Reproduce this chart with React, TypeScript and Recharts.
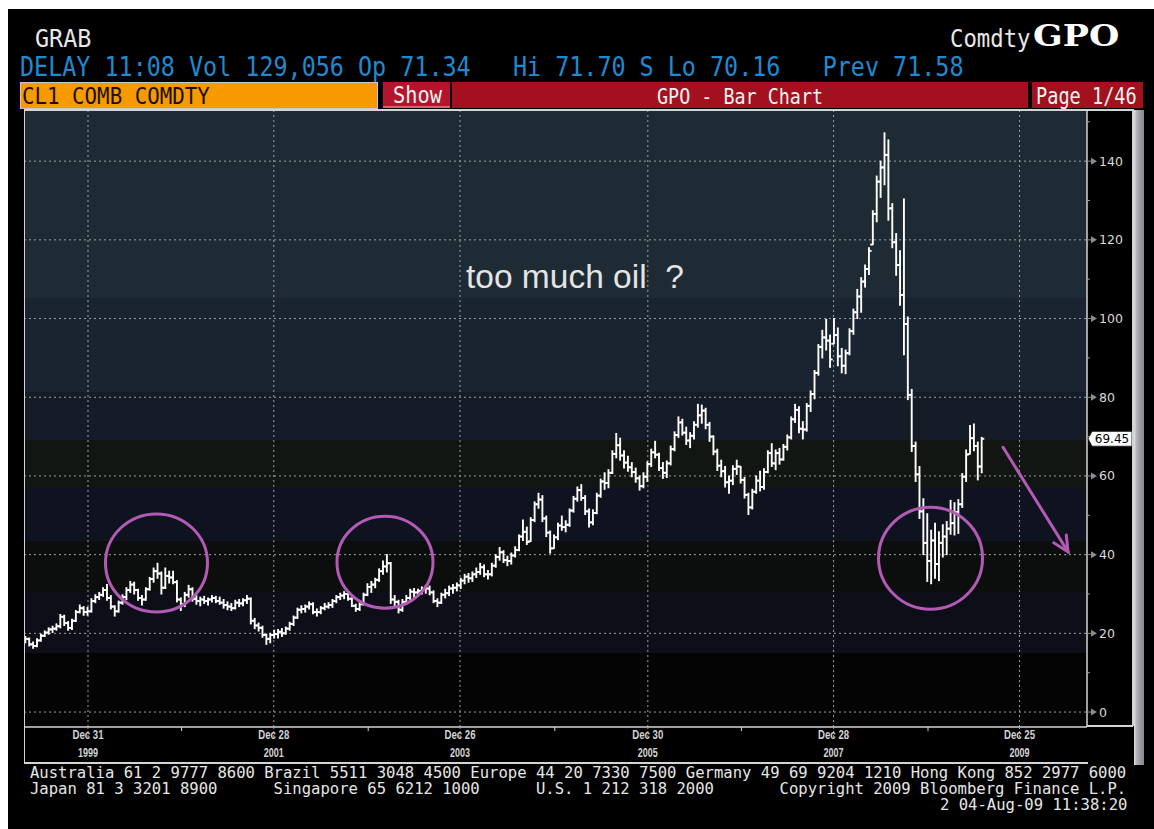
import React from "react";
import {
  Bar,
  CartesianGrid,
  ComposedChart,
  ReferenceDot,
  ReferenceLine,
  XAxis,
  YAxis,
} from "recharts";

type Hlc = [number, number, number];

// CL1 front month, two bars a month starting May 1999: [low, high, close]
const startYear = 1999.33;
const barsPerYear = 24;

const bars1999: Hlc[] = [
  [17.6, 19.2, 18.6], [16.8, 18.8, 17.2], [16.2, 17.8, 16.8], [16.6, 18.6, 18.2],
  [18.0, 19.8, 19.4], [19.2, 20.6, 20.2], [19.8, 21.4, 21.0], [20.2, 21.8, 21.2],
  [20.8, 22.4, 21.8], [21.4, 24.8, 24.2], [22.0, 24.6, 22.6], [20.8, 23.0, 21.4],
  [21.0, 23.6, 23.2], [23.0, 25.8, 25.4], [25.2, 27.2, 26.4], [24.6, 26.8, 25.4],
];
const bars2000: Hlc[] = [
  [24.6, 26.6, 25.6], [25.4, 28.8, 28.2], [27.8, 29.8, 29.2], [28.6, 30.4, 29.8],
  [29.4, 31.6, 31.0], [28.4, 32.4, 29.0], [26.2, 29.6, 26.8], [24.4, 27.0, 25.6],
  [25.4, 28.2, 27.8], [27.4, 29.8, 29.2], [28.6, 31.6, 31.0], [30.4, 33.2, 32.4],
  [30.0, 33.0, 31.0], [28.4, 31.2, 29.0], [27.2, 29.6, 28.6], [28.4, 31.6, 31.2],
  [31.0, 34.2, 33.8], [33.0, 36.6, 35.8], [34.0, 37.8, 35.2], [30.0, 35.6, 31.6],
  [31.4, 36.6, 34.6], [32.8, 35.8, 34.2], [32.6, 35.8, 33.0], [28.0, 33.4, 28.6],
];
const bars2001: Hlc[] = [
  [25.8, 29.0, 27.4], [26.8, 30.4, 29.8], [29.2, 32.2, 31.2], [28.2, 31.6, 28.8],
  [27.4, 29.6, 28.2], [27.0, 29.2, 28.6], [27.6, 29.4, 28.2], [27.2, 29.0, 28.6],
  [28.0, 29.6, 29.0], [27.8, 29.4, 28.2], [27.4, 29.2, 27.8], [26.4, 28.6, 27.2],
  [26.0, 28.0, 26.8], [25.8, 27.6, 26.4], [26.2, 28.4, 27.8], [26.8, 28.6, 27.6],
  [27.0, 28.8, 28.4], [27.6, 29.6, 28.8], [22.4, 29.0, 23.2], [21.2, 23.8, 22.0],
  [20.6, 22.6, 21.4], [19.0, 21.8, 19.6], [17.2, 19.8, 18.6], [17.6, 20.0, 19.6],
];
const bars2002: Hlc[] = [
  [18.8, 20.8, 19.8], [18.8, 21.0, 20.4], [19.2, 21.2, 20.0], [19.8, 21.6, 21.2],
  [20.8, 22.8, 22.4], [22.0, 24.4, 24.0], [23.8, 26.4, 26.0], [25.2, 27.0, 26.2],
  [25.4, 27.2, 26.8], [26.2, 28.0, 27.4], [25.0, 27.8, 25.4], [24.4, 26.2, 25.4],
  [25.0, 26.8, 26.4], [26.0, 27.6, 26.8], [26.4, 27.8, 27.2], [26.6, 28.6, 28.2],
  [27.8, 29.6, 29.2], [28.6, 30.2, 29.6], [28.8, 30.6, 30.0], [28.4, 30.4, 28.8],
  [26.8, 29.0, 27.0], [25.6, 27.4, 26.2], [25.8, 27.8, 27.4], [27.2, 30.2, 29.8],
];
const bars2003: Hlc[] = [
  [29.6, 32.6, 31.8], [30.4, 33.2, 32.4], [31.6, 34.0, 33.6], [33.2, 36.4, 35.8],
  [35.0, 38.4, 37.0], [35.6, 40.0, 37.8], [27.6, 38.0, 28.6], [26.6, 29.6, 28.0],
  [25.2, 28.4, 26.0], [25.6, 28.6, 28.0], [27.4, 29.6, 29.0], [28.6, 31.2, 30.6],
  [29.0, 31.4, 30.4], [29.4, 31.2, 30.8], [30.0, 31.8, 31.2], [30.2, 32.2, 31.4],
  [29.8, 32.0, 30.4], [27.8, 30.8, 28.2], [26.8, 28.8, 27.8], [27.6, 30.2, 29.8],
  [29.0, 31.2, 30.2], [29.6, 32.0, 31.4], [30.2, 32.4, 31.6], [30.8, 32.8, 32.2],
];
const bars2004: Hlc[] = [
  [31.4, 34.0, 33.4], [32.6, 35.0, 34.4], [33.0, 35.2, 34.0], [33.2, 35.6, 35.0],
  [34.2, 36.6, 35.6], [35.0, 37.8, 36.8], [34.4, 37.4, 35.0], [33.8, 36.0, 35.0],
  [34.6, 37.8, 37.2], [36.8, 40.0, 39.4], [38.6, 41.8, 40.6], [38.0, 41.0, 38.6],
  [37.2, 39.6, 38.4], [37.6, 40.4, 39.8], [39.4, 42.0, 41.2], [41.0, 45.0, 44.6],
  [43.6, 48.8, 45.8], [42.6, 47.0, 43.2], [43.4, 49.4, 48.8], [48.4, 53.4, 52.8],
  [51.8, 55.6, 54.0], [48.4, 55.0, 49.2], [44.6, 49.8, 45.6], [40.4, 46.0, 41.6],
];
const bars2005: Hlc[] = [
  [41.6, 45.0, 44.4], [43.8, 48.0, 47.4], [46.2, 49.8, 47.0], [45.8, 48.6, 47.6],
  [47.2, 51.6, 51.2], [50.8, 54.8, 54.2], [53.6, 57.2, 56.4], [53.8, 57.8, 54.4],
  [50.2, 55.0, 51.0], [47.0, 51.6, 48.2], [47.6, 51.4, 50.6], [50.4, 55.6, 55.0],
  [54.6, 59.2, 58.6], [56.6, 60.8, 58.2], [57.0, 61.6, 60.8], [60.6, 66.4, 65.6],
  [64.6, 70.8, 67.8], [64.0, 69.6, 65.2], [62.0, 66.4, 63.4], [61.2, 65.0, 62.2],
  [59.8, 63.4, 61.0], [58.4, 62.0, 59.4], [56.4, 60.0, 57.4], [57.0, 60.8, 59.8],
];
const bars2006: Hlc[] = [
  [58.6, 63.6, 63.0], [62.4, 66.8, 66.0], [64.6, 68.8, 65.4], [61.4, 65.8, 62.0],
  [59.4, 63.4, 60.8], [59.6, 63.8, 63.2], [62.8, 67.6, 66.8], [66.4, 71.2, 70.4],
  [69.8, 75.0, 73.6], [70.4, 74.4, 71.0], [68.0, 72.4, 69.0], [67.2, 71.0, 70.2],
  [69.4, 73.8, 73.0], [72.4, 78.2, 75.4], [73.4, 78.0, 76.6], [72.0, 77.2, 73.0],
  [68.8, 73.6, 70.0], [65.4, 70.2, 66.2], [61.4, 66.8, 62.6], [59.8, 64.0, 61.2],
  [57.2, 62.4, 58.4], [55.6, 60.0, 58.8], [57.8, 62.6, 61.8], [60.4, 64.0, 62.4],
];
const bars2007: Hlc[] = [
  [58.2, 62.4, 59.0], [54.4, 59.6, 55.2], [50.2, 55.6, 52.0], [51.6, 56.6, 56.0],
  [55.6, 60.0, 58.8], [56.2, 61.2, 57.2], [56.6, 61.8, 61.0], [60.8, 66.4, 65.8],
  [62.4, 68.2, 63.2], [61.6, 66.6, 65.8], [63.0, 67.0, 64.2], [64.0, 68.0, 67.4],
  [66.6, 70.4, 69.8], [69.4, 75.0, 74.4], [73.6, 78.2, 76.8], [71.0, 77.6, 72.0],
  [69.4, 73.8, 71.8], [71.4, 78.4, 77.8], [76.4, 81.6, 80.8], [79.6, 86.8, 86.2],
  [85.6, 93.4, 92.8], [90.0, 97.0, 95.2], [92.0, 99.8, 94.4], [87.6, 95.8, 89.6],
];
const bars2008: Hlc[] = [
  [93.6, 100.0, 95.8], [88.0, 97.6, 90.4], [86.2, 92.4, 88.0], [86.0, 92.0, 91.2],
  [90.8, 97.4, 96.8], [96.0, 102.4, 101.6], [100.0, 107.4, 105.6], [101.6, 110.4, 109.4],
  [108.0, 113.6, 112.6], [111.2, 118.0, 117.2], [118.8, 127.4, 126.6], [124.6, 136.2, 134.8],
  [130.8, 140.0, 138.4], [134.0, 147.2, 141.6], [125.0, 145.4, 128.0], [118.0, 129.2, 119.4],
  [111.0, 121.6, 113.6], [103.4, 117.2, 106.0], [90.8, 130.4, 98.6], [79.4, 100.4, 80.6],
  [66.2, 82.0, 67.6], [58.6, 68.6, 60.4], [49.2, 62.4, 51.0], [40.0, 54.2, 43.0],
];
const bars2009: Hlc[] = [
  [33.2, 50.4, 38.4], [32.6, 46.2, 43.6], [34.0, 48.0, 37.6], [33.4, 45.8, 43.0],
  [39.4, 47.6, 44.6], [40.0, 48.4, 46.6], [45.2, 53.8, 48.0], [45.0, 53.2, 50.8],
  [45.4, 54.0, 52.8], [52.0, 60.6, 59.8], [58.6, 66.6, 65.4], [65.6, 72.8, 69.6],
  [66.4, 73.2, 67.6], [59.0, 68.6, 62.4], [60.8, 69.8, 69.45],
];

const priceTicks = [0, 10, 20, 30, 40, 50, 60, 70, 80, 90, 100, 110, 120, 130, 140, 150];
const priceLabels = [0, 20, 40, 60, 80, 100, 120, 140];

const dateMajor = [1999.997, 2001.988, 2003.984, 2005.997, 2007.988, 2009.981];
const dateMajorDay = ["Dec 31", "Dec 28", "Dec 26", "Dec 30", "Dec 28", "Dec 25"];
const dateMajorYear = ["1999", "2001", "2003", "2005", "2007", "2009"];
const dateMinor = [2001.0, 2003.0, 2005.0, 2007.0, 2009.0];

// plot background bands, top to bottom (value where each band ends)
const bandEnds = [105.3, 81.4, 69.2, 57, 43.5, 30.5, 15];
const bandColors = ["#1e2b34", "#1a2430", "#151c27", "#111612", "#0f1320", "#0b0e0d", "#0e0e19", "#040404"];

// annotations drawn on the chart
const circles = [
  { t: 2000.731, v: 37.9, rx: 51, ry: 49 },
  { t: 2003.18, v: 38.1, rx: 48, ry: 46 },
  { t: 2009.027, v: 39.1, rx: 52, ry: 51 },
];
const arrow = { from: { t: 2009.804, v: 67.3 }, to: { t: 2010.501, v: 40.7 } };
const note = { t: 2004.048, v: 107.75, text: "too much oil  ?" };

const xMin = 1999.311;
const xMax = 2010.704;
const yMin = -3.8;
const yMax = 153;

const allBars = [
  ...bars1999, ...bars2000, ...bars2001, ...bars2002, ...bars2003, ...bars2004,
  ...bars2005, ...bars2006, ...bars2007, ...bars2008, ...bars2009,
];
const data = allBars.map(([lo, hi, close], i) => ({
  t: startYear + i / barsPerYear,
  range: [lo, hi],
  lo,
  hi,
  close,
  open: i === 0 ? close : allBars[i - 1][2],
}));
const lastClose = allBars[allBars.length - 1][2];

const MONO = "'DejaVu Sans Mono', 'Liberation Mono', monospace";
const PURPLE = "#b35ab5";

const OhlcBar = (props: any) => {
  const { x, y, width, height, payload } = props;
  if (height == null || !payload) return null;
  const top = Math.min(y, y + height);
  const h = Math.abs(height);
  const cx = x + width / 2;
  const k = payload.hi > payload.lo ? h / (payload.hi - payload.lo) : 0;
  const clamp = (v: number) => Math.max(payload.lo, Math.min(payload.hi, v));
  const yo = top + (payload.hi - clamp(payload.open)) * k;
  const yc = top + (payload.hi - clamp(payload.close)) * k;
  return (
    <g stroke="#ffffff" strokeWidth={1.9}>
      <line x1={cx} x2={cx} y1={top - 0.5} y2={top + h + 0.5} />
      <line x1={cx - 2.6} x2={cx} y1={yo} y2={yo} />
      <line x1={cx} x2={cx + 2.6} y1={yc} y2={yc} />
    </g>
  );
};

const PriceTick = (props: any) => {
  const { x, y, payload } = props;
  const v = payload.value;
  if (priceLabels.indexOf(v) < 0) {
    return <line x1={x} x2={x + 3} y1={y} y2={y} stroke="#9a9a9a" />;
  }
  return (
    <g>
      <line x1={x} x2={x + 5} y1={y} y2={y} stroke="#8c8c8c" />
      <path d={`M${x + 4},${y - 3.5}L${x + 10},${y}L${x + 4},${y + 3.5}Z`} fill="#8c8c8c" />
      <text x={x + 12} y={y + 4.5} fill="#dadada" fontSize={12.5} fontFamily="'DejaVu Sans', sans-serif">
        {v}
      </text>
    </g>
  );
};

const DateTick = (props: any) => {
  const { x, y, payload } = props;
  const k = dateMajor.indexOf(payload.value);
  if (k < 0) {
    return <line x1={x} x2={x} y1={y} y2={y + 4} stroke="#d8d8d8" />;
  }
  const font = { fill: "#d4d4d4", fontSize: 12, fontWeight: 700, fontFamily: "'Liberation Sans', Arial, sans-serif" };
  return (
    <g>
      <line x1={x} x2={x} y1={y} y2={y + 10} stroke="#9aa0a6" strokeDasharray="2 2" />
      <text x={x} y={y + 12} textAnchor="middle" textLength={31} lengthAdjust="spacingAndGlyphs" {...font}>
        {dateMajorDay[k]}
      </text>
      <text x={x} y={y + 30} textAnchor="middle" textLength={20} lengthAdjust="spacingAndGlyphs" {...font}>
        {dateMajorYear[k]}
      </text>
    </g>
  );
};

const PriceTag = (props: any) => {
  const { cx, cy } = props;
  if (cx == null || cy == null) return null;
  return (
    <g>
      <path
        d={`M${cx + 1},${cy} L${cx + 5},${cy - 7.5} L${cx + 45},${cy - 7.5} L${cx + 45},${cy + 7.5} L${cx + 5},${cy + 7.5} Z`}
        fill="#ffffff"
        stroke="#202020"
      />
      <text x={cx + 25} y={cy + 4.5} textAnchor="middle" fontSize={12} fill="#000" fontFamily="'DejaVu Sans', sans-serif">
        {lastClose.toFixed(2)}
      </text>
    </g>
  );
};

const ArrowShape = (props: any) => {
  const { x1, y1, x2, y2 } = props;
  if (x1 == null) return null;
  const a = Math.atan2(y2 - y1, x2 - x1);
  const len = 17;
  const s = 0.45;
  const p1 = `${x2 - len * Math.cos(a - s)},${y2 - len * Math.sin(a - s)}`;
  const p2 = `${x2 - len * Math.cos(a + s)},${y2 - len * Math.sin(a + s)}`;
  return (
    <g stroke={PURPLE} strokeWidth={3} fill="none" strokeLinecap="round">
      <line x1={x1} y1={y1} x2={x2} y2={y2} />
      <path d={`M${p1} L${x2},${y2} L${p2}`} />
    </g>
  );
};

const Txt = ({ left, top, size, color, sy = 1, sx = 1, weight = 400, family = MONO, children }: any) => (
  <div
    style={{
      position: "absolute",
      left,
      top,
      fontSize: size,
      lineHeight: 1,
      color,
      fontWeight: weight,
      fontFamily: family,
      whiteSpace: "pre",
      transformOrigin: "left top",
      transform: `scale(${sx}, ${sy})`,
    }}
  >
    {children}
  </div>
);

const box = (left: number, top: number, width: number, height: number, extra: any = {}) => ({
  position: "absolute" as const,
  left,
  top,
  width,
  height,
  ...extra,
});

export default function App() {
  const span = yMax - yMin;
  const stops: React.ReactNode[] = [];
  let prev = yMax;
  bandColors.forEach((c, i) => {
    const end = i < bandEnds.length ? bandEnds[i] : yMin;
    stops.push(<stop key={`a${i}`} offset={(yMax - prev) / span} stopColor={c} />);
    stops.push(<stop key={`b${i}`} offset={(yMax - end) / span} stopColor={c} />);
    prev = end;
  });

  const frame = "#d4d4d4";

  return (
    <div style={{ position: "absolute", left: 0, top: 0, width: 1154, height: 829, background: "#ffffff", overflow: "hidden" }}>
      <div style={box(8, 9, 1146, 820, { background: "#000" })} />

      <Txt left={35} top={26} size={23.4} color="#e8e8e8" sy={1.08}>GRAB</Txt>
      <Txt left={950} top={26} size={22.3} color="#e8e8e8" sy={1.08}>Comdty</Txt>
      <Txt left={1033} top={22} size={29} color="#ffffff" sx={1.2} weight={700} family="'DejaVu Serif', serif">GPO</Txt>
      <Txt left={20} top={54} size={23.4} color="#1f8ad0" sy={1.14}>
        {"DELAY 11:08 Vol 129,056 Op 71.34   Hi 71.70 S Lo 70.16   Prev 71.58"}
      </Txt>

      <div style={box(20, 82, 358, 27, { background: "#f79a00", border: "1px solid #c8c8c8", boxSizing: "border-box" })} />
      <Txt left={22} top={84.5} size={20.8} color="#1a1000" sy={1.12}>CL1 COMB COMDTY</Txt>
      <div style={box(383, 82, 67, 26, { background: "#b3162c", borderBottom: "2px solid #e35a6a", boxSizing: "border-box" })} />
      <Txt left={393} top={82.5} size={20.3} color="#f2f2f2" sy={1.15}>Show</Txt>
      <div style={box(452, 82, 576, 26, { background: "#a3111f" })} />
      <Txt left={657} top={85.5} size={18.4} color="#f2f2f2" sy={1.19}>GPO - Bar Chart</Txt>
      <div style={box(1032, 82, 111, 26, { background: "#a3111f" })} />
      <Txt left={1036} top={85.5} size={18.6} color="#f2f2f2" sy={1.19}>Page 1/46</Txt>

      <div style={{ position: "absolute", left: 0, top: 0 }}>
        <ComposedChart
          width={1154}
          height={829}
          data={data}
          margin={{ top: 110, right: 21, bottom: 66, left: 24 }}
        >
          <defs>
            <linearGradient id="bands" x1="0" y1="0" x2="0" y2="1">
              {stops}
            </linearGradient>
          </defs>
          <CartesianGrid
            fill="url(#bands)"
            fillOpacity={1}
            stroke="#9aa0a5"
            strokeDasharray="2 3"
            horizontalValues={priceLabels}
            verticalValues={dateMajor}
          />
          <XAxis
            type="number"
            dataKey="t"
            domain={[xMin, xMax]}
            allowDataOverflow
            ticks={[...dateMajor, ...dateMinor].sort((a, b) => a - b)}
            interval={0}
            tick={<DateTick />}
            tickLine={false}
            tickSize={0}
            tickMargin={0}
            axisLine={{ stroke: frame, strokeWidth: 1.5 }}
            height={36}
          />
          <YAxis
            orientation="right"
            domain={[yMin, yMax]}
            allowDataOverflow
            ticks={priceTicks}
            interval={0}
            tick={<PriceTick />}
            tickLine={false}
            tickSize={0}
            tickMargin={0}
            axisLine={{ stroke: frame, strokeWidth: 1.5 }}
            width={46}
          />
          <Bar dataKey="range" barSize={3} shape={OhlcBar} isAnimationActive={false} />
          {circles.map((c, i) => (
            <ReferenceDot
              key={i}
              x={c.t}
              y={c.v}
              ifOverflow="visible"
              shape={(p: any) => (
                <ellipse cx={p.cx} cy={p.cy} rx={c.rx} ry={c.ry} fill="none" stroke={PURPLE} strokeWidth={3} />
              )}
            />
          ))}
          <ReferenceLine
            segment={[
              { x: arrow.from.t, y: arrow.from.v },
              { x: arrow.to.t, y: arrow.to.v },
            ]}
            ifOverflow="visible"
            shape={ArrowShape}
          />
          <ReferenceDot
            x={note.t}
            y={note.v}
            ifOverflow="visible"
            shape={(p: any) => (
              <text
                x={p.cx}
                y={p.cy}
                fill="#e4e4e4"
                fontSize={33.5}
                fontFamily="'Liberation Sans', Arial, sans-serif"
                style={{ whiteSpace: "pre" }}
              >
                {note.text}
              </text>
            )}
          />
          <ReferenceDot x={xMax} y={lastClose} ifOverflow="visible" shape={PriceTag} />
        </ComposedChart>
      </div>

      {/* frame lines around plot, axis strip and price scale */}
      <div style={box(24, 109, 1109, 1.5, { background: frame })} />
      <div style={box(23.5, 109, 1.5, 654, { background: frame })} />
      <div style={box(1132, 109, 1.5, 617, { background: frame })} />
      <div style={box(1087, 725, 46, 1.5, { background: frame })} />
      <div style={box(24, 762, 1064, 1.5, { background: frame })} />
      <div
        style={box(1134, 110, 10, 655, {
          background: "linear-gradient(to right, #e0e0e6 0%, #b4b4bc 25%, #9a9aa2 60%, #86868e 100%)",
        })}
      />

      <Txt left={30} top={766} size={15.57} color="#e6e6e6">
        {"Australia 61 2 9777 8600 Brazil 5511 3048 4500 Europe 44 20 7330 7500 Germany 49 69 9204 1210 Hong Kong 852 2977 6000"}
      </Txt>
      <Txt left={30} top={782} size={15.57} color="#e6e6e6">
        {"Japan 81 3 3201 8900      Singapore 65 6212 1000      U.S. 1 212 318 2000       Copyright 2009 Bloomberg Finance L.P."}
      </Txt>
      <Txt left={940} top={798} size={15.57} color="#e6e6e6">
        {"2 04-Aug-09 11:38:20"}
      </Txt>
    </div>
  );
}
